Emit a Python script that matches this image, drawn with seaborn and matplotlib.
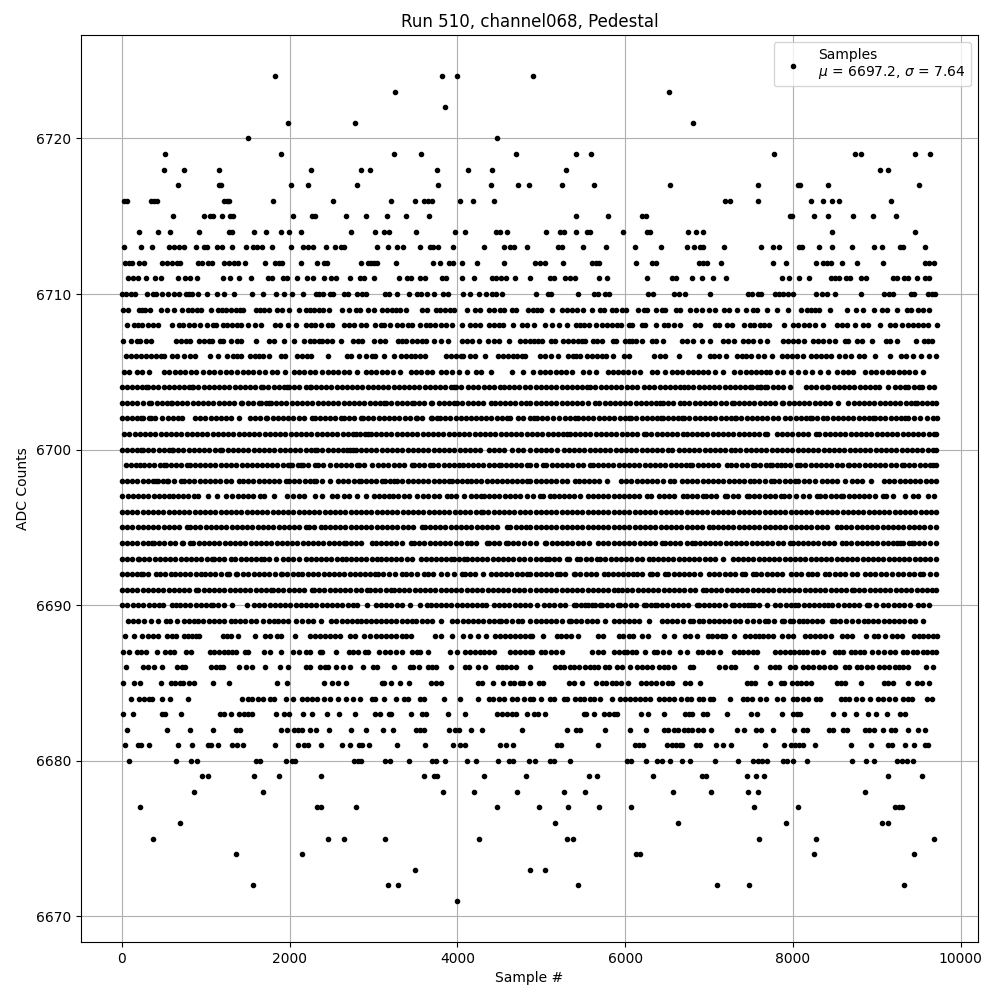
import pandas as pd
import matplotlib
matplotlib.use('Agg')
import matplotlib.pyplot as plt
import seaborn as sns

# sample numbers, one list per ADC count
adc_6724 = [1826, 3814, 3993, 4897]
adc_6723 = [3254, 6517]
adc_6722 = [3850]
adc_6721 = [1981, 2778, 6814]
adc_6720 = [1505, 4469]
adc_6719 = [516, 1898, 3242, 3564, 4695, 5409, 5588, 7778, 8743, 8814, 9457, 9636]
adc_6718 = [504, 742, 1159, 2255, 2849, 2957, 3755, 4124, 4410, 5290, 9040, 9136]
adc_6717 = [671, 1159, 1179, 2017, 2219, 2802, 3766, 4398, 4719, 4858, 5242, 5623, 6540, 7587, 8064, 8088, 8421, 9505]
adc_6716 = [28, 67, 353, 385, 417, 1219, 1250, 1282, 1802, 2516, 3207, 3493, 3600, 3647, 3695, 4028, 4183, 4433,
            7195, 7255, 7587, 8219, 8361, 8461, 8552, 9171]
adc_6715 = [611, 981, 1052, 1092, 1195, 1290, 1330, 2041, 2267, 2307, 2671, 2909, 3159, 3385, 3659, 5409, 5790,
            6203, 6243, 7965, 7984, 8254, 8421, 8719, 8957, 9231]
adc_6714 = [206, 433, 576, 921, 1282, 1314, 1576, 1719, 1898, 1993, 2136, 2730, 3016, 3123, 3183, 3504, 3969, 4088,
            4457, 4505, 4588, 5052, 5218, 5266, 5409, 5544, 5576, 5969, 6255, 6290, 6743, 6838, 6933, 8469, 9457]
adc_6713 = [28, 230, 361, 564, 623, 683, 742, 885, 981, 1012, 1135, 1195, 1314, 1481, 1564, 1616, 1671, 1790, 2017,
            2160, 2219, 2279, 2433, 2540, 2607, 2647, 3040, 3171, 3278, 3350, 3552, 3671, 3707, 3766, 3945, 4314,
            4552, 4632, 4671, 4826, 5194, 5246, 5492, 5766, 6112, 6421, 6731, 6826, 6886, 6933, 7183, 7623, 7766,
            7837, 8076, 8107, 8314, 8469, 8707, 8969, 9064, 9279, 9314, 9576]
adc_6712 = [40, 87, 127, 206, 266, 484, 544, 603, 663, 695, 909, 961, 1028, 1076, 1219, 1278, 1338, 1389, 1473, 1711,
            1822, 1874, 1910, 2136, 2330, 2409, 2448, 2849, 2933, 2972, 3004, 3036, 3266, 3707, 3790, 3897, 3945,
            4052, 4231, 4552, 4921, 4980, 5040, 5254, 5599, 5647, 5683, 6124, 6314, 6362, 6874, 6933, 6973, 7136,
            7766, 7921, 8278, 8361, 8409, 8449, 8588, 8766, 9076, 9576, 9624, 9676]
adc_6711 = [75, 139, 194, 290, 397, 468, 671, 754, 810, 897, 1207, 1290, 1397, 1540, 1743, 1790, 1921, 1973, 2088,
            2207, 2279, 2409, 2492, 2552, 2718, 2837, 2885, 3004, 3302, 3397, 3445, 3552, 3612, 3814, 3862, 4052,
            4195, 4410, 4457, 4517, 4576, 4683, 4862, 5099, 5155, 5278, 5337, 5397, 5683, 5778, 6255, 6552, 6600,
            6802, 6910, 7041, 7207, 7873, 7957, 8076, 8195, 8457, 8504, 8552, 8635, 8679, 8814, 8874, 9195, 9243,
            9326, 9374, 9481, 9576, 9624]
adc_6710 = [8, 48, 115, 155, 302, 373, 409, 480, 552, 623, 683, 766, 802, 841, 909, 1016, 1131, 1219, 1338, 1552,
            1683, 1842, 1933, 2028, 2160, 2314, 2350, 2397, 2480, 2520, 2647, 2695, 2802, 2861, 2909, 3135, 3183,
            3278, 3421, 3516, 3564, 3639, 3719, 3826, 3885, 4064, 4155, 4255, 4338, 4410, 4457, 4528, 4933, 5075,
            5115, 5437, 5623, 5671, 5754, 5802, 6266, 6326, 6576, 6636, 6707, 7013, 7468, 7516, 7587, 7623, 7790,
            7837, 7885, 7945, 8004, 8278, 8350, 8409, 8504, 8814, 9088, 9148, 9195, 9410, 9445, 9612, 9660, 9695]
adc_6709 = [20, 75, 206, 246, 278, 337, 468, 540, 623, 722, 790, 841, 893, 941, 1064, 1147, 1199, 1246, 1298, 1358,
            1409, 1449, 1596, 1648, 1695, 1754, 1854, 1913, 1993, 2112, 2195, 2243, 2291, 2350, 2397, 2468, 2627,
            2706, 2786, 2837, 2933, 3004, 3103, 3163, 3219, 3274, 3322, 3385, 3576, 3635, 3742, 3798, 3858, 3909,
            3965, 4112, 4215, 4274, 4374, 4441, 4513, 4560, 4648, 4695, 4838, 4897, 4948, 4996, 5123, 5242, 5306,
            5365, 5425, 5496, 5599, 5695, 5750, 5842, 5893, 5957, 6008, 6147, 6219, 6258, 6362, 6437, 6477, 6604,
            6652, 6775, 6846, 6917, 6993, 7076, 7183, 7243, 7334, 7440, 7528, 7575, 7694, 7814, 7945, 8091, 8163,
            8211, 8262, 8314, 8445, 8647, 8755, 8838, 8969, 9064, 9124, 9243, 9354, 9410, 9493, 9552, 9624]
adc_6708 = [67, 147, 194, 246, 314, 377, 437, 603, 683, 734, 802, 861, 933, 1012, 1092, 1123, 1211, 1258, 1318, 1370,
            1417, 1504, 1588, 1659, 1822, 1886, 1985, 2076, 2191, 2251, 2299, 2369, 2456, 2508, 2647, 2706, 2766,
            2853, 2905, 3024, 3084, 3131, 3195, 3282, 3342, 3409, 3461, 3560, 3620, 3679, 3739, 3806, 3870, 3941,
            4052, 4147, 4215, 4274, 4374, 4433, 4493, 4544, 4660, 4771, 4830, 4909, 5048, 5123, 5206, 5306, 5409,
            5465, 5512, 5564, 5655, 5722, 5782, 5842, 5901, 5949, 6040, 6080, 6199, 6238, 6370, 6465, 6505, 6576,
            6648, 6834, 6894, 7072, 7120, 7219, 7271, 7417, 7488, 7536, 7607, 7655, 7718, 7893, 8004, 8064, 8131,
            8195, 8262, 8361, 8520, 8580, 8639, 8743, 8838, 8897, 9040, 9155, 9215, 9294, 9366, 9425, 9493, 9552,
            9612, 9719]
adc_6707 = [20, 115, 179, 218, 286, 353, 643, 703, 762, 814, 921, 981, 1040, 1080, 1171, 1211, 1306, 1370, 1417, 1600,
            1754, 1814, 1933, 2052, 2171, 2239, 2291, 2350, 2389, 2448, 2500, 2611, 2758, 2814, 2865, 3004, 3076,
            3143, 3290, 3342, 3393, 3461, 3520, 3580, 3631, 3719, 3806, 3885, 4056, 4116, 4175, 4255, 4362, 4433,
            4493, 4612, 4751, 4810, 4862, 4909, 4956, 5012, 5115, 5167, 5258, 5318, 5377, 5433, 5484, 5524, 5611,
            5663, 5722, 5854, 5893, 5992, 6040, 6080, 6131, 6199, 6318, 6370, 6449, 6675, 6735, 6806, 6913, 7005,
            7171, 7231, 7291, 7409, 7468, 7528, 7607, 7687, 7885, 7945, 8004, 8064, 8131, 8234, 8302, 8361, 8433,
            8500, 8619, 8659, 8758, 8818, 8945, 9104, 9155, 9235, 9461, 9564, 9612, 9652]
adc_6706 = [48, 107, 167, 226, 286, 345, 405, 465, 504, 603, 663, 742, 814, 869, 1052, 1151, 1250, 1330, 1378, 1425,
            1528, 1584, 1636, 1687, 1755, 1902, 1949, 2092, 2148, 2203, 2259, 2453, 2688, 2727, 2827, 2910, 2981,
            3013, 3124, 3239, 3331, 3386, 3442, 3498, 3553, 3609, 3859, 3918, 3978, 4038, 4069, 4145, 4204, 4327,
            4490, 4546, 4601, 4657, 4712, 4768, 4804, 4988, 5044, 5115, 5202, 5314, 5377, 5417, 5465, 5544, 5603,
            5663, 5719, 5774, 5854, 5981, 6040, 6338, 6417, 6469, 6636, 6874, 7005, 7060, 7116, 7207, 7338, 7394,
            7442, 7497, 7577, 7656, 7751, 7874, 7934, 7993, 8053, 8116, 8220, 8275, 8331, 8394, 8454, 8549, 8621,
            8692, 8787, 8847, 8982, 9161, 9284, 9347, 9427, 9522, 9621, 9704]
adc_6705 = [28, 91, 179, 242, 325, 504, 568, 631, 695, 758, 822, 885, 973, 1036, 1100, 1171, 1239, 1298, 1378, 1441,
            1505, 1568, 1632, 1703, 1786, 1846, 1949, 2049, 2112, 2176, 2239, 2303, 2386, 2453, 2517, 2581, 2644,
            2708, 2807, 2906, 2970, 3033, 3097, 3164, 3228, 3315, 3442, 3506, 3569, 3633, 3696, 3799, 3859, 3938,
            4018, 4117, 4220, 4284, 4399, 4645, 4784, 4901, 4980, 5044, 5107, 5171, 5234, 5298, 5369, 5496, 5568,
            5647, 5794, 5854, 5909, 5973, 6036, 6100, 6171, 6314, 6378, 6473, 6552, 6616, 6679, 6743, 6806, 6870,
            6925, 6989, 7068, 7171, 7295, 7370, 7434, 7497, 7561, 7624, 7680, 7727, 7807, 7886, 7974, 8065, 8148,
            8228, 8319, 8418, 8529, 8593, 8656, 8720, 8863, 8926, 8990, 9061, 9133, 9196, 9260, 9323, 9387, 9458, 9554]
adc_6704 = [0, 62, 121, 183, 240, 286, 314, 375, 436, 498, 560, 622, 683, 745, 806, 834, 850, 912, 975, 1037, 1098,
            1160, 1222, 1283, 1345, 1406, 1468, 1530, 1592, 1655, 1687, 1748, 1810, 1872, 1933, 1973, 1993, 2055, 2116,
            2195, 2243, 2251, 2313, 2375, 2437, 2498, 2560, 2622, 2684, 2745, 2807, 2869, 2931, 2992, 3054, 3116,
            3178, 3239, 3301, 3363, 3425, 3486, 3548, 3610, 3672, 3733, 3795, 3857, 3919, 3958, 3986, 4048, 4125,
            4188, 4250, 4312, 4374, 4436, 4506, 4553, 4615, 4677, 4739, 4801, 4871, 4932, 4994, 5056, 5118, 5180,
            5242, 5304, 5366, 5428, 5490, 5544, 5584, 5646, 5708, 5770, 5832, 5894, 5956, 6018, 6080, 6142, 6219,
            6286, 6348, 6410, 6472, 6534, 6596, 6658, 6703, 6743, 6814, 6874, 6936, 6998, 7060, 7122, 7184, 7246,
            7308, 7370, 7432, 7489, 7509, 7570, 7608, 7620, 7668, 7696, 7758, 7820, 7882, 7966, 8156, 8218, 8280,
            8342, 8402, 8422, 8484, 8546, 8608, 8670, 8732, 8794, 8856, 8918, 8980, 9026, 9137, 9216, 9278, 9335,
            9376, 9438, 9500, 9534, 9625, 9680]
adc_6703 = [0, 62, 124, 186, 248, 325, 353, 415, 477, 539, 583, 595, 657, 719, 781, 843, 905, 967, 1029, 1091, 1153,
            1215, 1277, 1339, 1417, 1437, 1499, 1561, 1636, 1655, 1717, 1755, 1775, 1837, 1899, 1961, 2023, 2085,
            2147, 2209, 2271, 2333, 2395, 2457, 2519, 2581, 2643, 2705, 2767, 2829, 2891, 2953, 3015, 3077, 3124,
            3152, 3214, 3276, 3338, 3400, 3462, 3482, 3544, 3606, 3680, 3700, 3780, 3842, 3904, 3958, 3998, 4060,
            4122, 4184, 4246, 4308, 4395, 4443, 4505, 4567, 4629, 4691, 4753, 4815, 4871, 4933, 4995, 5057, 5119,
            5181, 5243, 5305, 5367, 5429, 5491, 5553, 5643, 5683, 5762, 5814, 5876, 5938, 6000, 6062, 6124, 6186,
            6248, 6310, 6372, 6409, 6449, 6511, 6573, 6655, 6703, 6765, 6827, 6889, 6951, 7013, 7075, 7137, 7199,
            7271, 7291, 7353, 7415, 7477, 7539, 7601, 7663, 7725, 7787, 7866, 7886, 7948, 8010, 8072, 8134, 8196,
            8258, 8320, 8382, 8444, 8541, 8660, 8722, 8784, 8846, 8908, 8970, 9032, 9094, 9156, 9218, 9280, 9342,
            9404, 9454, 9474, 9536, 9598, 9660, 9710]
adc_6702 = [0, 62, 124, 186, 226, 254, 326, 353, 397, 484, 546, 608, 670, 715, 873, 935, 997, 1059, 1121, 1183, 1245,
            1307, 1401, 1528, 1590, 1652, 1715, 1735, 1797, 1859, 1921, 1983, 2045, 2107, 2169, 2263, 2299, 2361,
            2423, 2485, 2547, 2616, 2648, 2710, 2772, 2847, 2874, 2936, 2998, 3060, 3122, 3184, 3246, 3308, 3370,
            3432, 3502, 3522, 3584, 3680, 3700, 3760, 3792, 3854, 3916, 3978, 4038, 4097, 4157, 4219, 4281, 4343,
            4405, 4467, 4529, 4591, 4633, 4720, 4782, 4871, 4909, 4948, 5010, 5072, 5134, 5206, 5278, 5340, 5397,
            5433, 5495, 5557, 5615, 5683, 5745, 5807, 5869, 5941, 6000, 6048, 6072, 6134, 6196, 6258, 6320, 6382,
            6429, 6445, 6507, 6569, 6631, 6675, 6703, 6765, 6827, 6889, 6951, 7013, 7075, 7137, 7199, 7261, 7310,
            7322, 7384, 7446, 7508, 7570, 7632, 7694, 7756, 7827, 7906, 7968, 8030, 8092, 8154, 8204, 8224, 8286,
            8355, 8410, 8472, 8534, 8596, 8658, 8720, 8782, 8844, 8906, 8958, 8978, 9040, 9102, 9164, 9226, 9288,
            9335, 9376, 9438, 9514, 9601, 9663, 9714]
adc_6701 = [28, 90, 152, 214, 276, 338, 400, 462, 524, 586, 648, 710, 772, 834, 896, 958, 1020, 1082, 1144, 1206,
            1268, 1330, 1392, 1454, 1516, 1578, 1640, 1702, 1764, 1826, 1888, 1950, 2012, 2074, 2136, 2198, 2260,
            2322, 2384, 2446, 2508, 2570, 2632, 2694, 2756, 2795, 2835, 2897, 2934, 2966, 3028, 3090, 3152, 3214,
            3276, 3338, 3400, 3462, 3524, 3586, 3648, 3710, 3772, 3834, 3896, 3958, 4020, 4082, 4144, 4206, 4268,
            4330, 4392, 4454, 4516, 4578, 4640, 4702, 4764, 4826, 4889, 4951, 5013, 5075, 5137, 5199, 5261, 5306,
            5337, 5399, 5461, 5523, 5585, 5647, 5709, 5771, 5833, 5895, 5957, 6019, 6081, 6143, 6219, 6250, 6312,
            6374, 6436, 6498, 6560, 6622, 6684, 6735, 6794, 6856, 6918, 6980, 7042, 7104, 7166, 7228, 7290, 7352,
            7414, 7476, 7538, 7600, 7662, 7696, 7807, 7869, 7931, 7993, 8055, 8117, 8179, 8275, 8315, 8377, 8439,
            8501, 8563, 8625, 8687, 8749, 8811, 8873, 8935, 8997, 9059, 9121, 9183, 9245, 9307, 9369, 9431, 9493,
            9555, 9617, 9679, 9700]
adc_6700 = [0, 62, 124, 186, 226, 254, 316, 378, 440, 502, 564, 595, 611, 673, 735, 797, 859, 921, 983, 1045, 1107,
            1171, 1199, 1261, 1323, 1385, 1447, 1509, 1571, 1633, 1695, 1757, 1819, 1881, 1943, 2005, 2067, 2129,
            2191, 2253, 2299, 2330, 2392, 2454, 2516, 2578, 2640, 2688, 2720, 2755, 2787, 2849, 2911, 2973, 3035,
            3097, 3159, 3221, 3283, 3345, 3407, 3469, 3531, 3593, 3655, 3717, 3779, 3841, 3903, 3965, 4027, 4089,
            4151, 4213, 4275, 4375, 4435, 4497, 4559, 4653, 4720, 4782, 4871, 4933, 4995, 5057, 5119, 5187, 5266,
            5328, 5390, 5452, 5514, 5576, 5638, 5700, 5762, 5824, 5886, 5948, 6010, 6072, 6134, 6196, 6258, 6320,
            6382, 6444, 6506, 6556, 6636, 6698, 6760, 6822, 6884, 6946, 7008, 7070, 7132, 7194, 7263, 7310, 7372,
            7434, 7496, 7558, 7620, 7682, 7744, 7806, 7868, 7930, 7992, 8054, 8116, 8178, 8240, 8302, 8364, 8426,
            8488, 8550, 8612, 8674, 8736, 8798, 8860, 8922, 8984, 9046, 9108, 9170, 9232, 9294, 9356, 9418, 9480,
            9542, 9604, 9666, 9710]
adc_6699 = [48, 110, 172, 214, 266, 328, 390, 452, 504, 524, 586, 648, 710, 782, 814, 869, 931, 993, 1055, 1117,
            1179, 1241, 1303, 1365, 1427, 1489, 1556, 1608, 1670, 1732, 1794, 1856, 1918, 1980, 2005, 2033, 2095,
            2132, 2160, 2222, 2299, 2339, 2401, 2477, 2549, 2611, 2673, 2735, 2799, 2827, 2889, 2978, 3053, 3115,
            3177, 3239, 3301, 3363, 3454, 3482, 3544, 3606, 3668, 3712, 3774, 3836, 3898, 3960, 4022, 4069, 4125,
            4187, 4249, 4311, 4373, 4435, 4494, 4514, 4576, 4638, 4700, 4762, 4824, 4871, 4933, 5020, 5060, 5122,
            5184, 5246, 5308, 5370, 5432, 5494, 5584, 5611, 5673, 5735, 5797, 5859, 5921, 5983, 6045, 6107, 6169,
            6231, 6293, 6355, 6417, 6479, 6541, 6603, 6665, 6727, 6775, 6802, 6864, 6926, 6988, 7050, 7112, 7211,
            7263, 7325, 7387, 7449, 7521, 7549, 7611, 7673, 7727, 7747, 7809, 7858, 7906, 7968, 8053, 8085, 8147,
            8209, 8271, 8333, 8395, 8457, 8519, 8581, 8652, 8668, 8730, 8792, 8854, 8916, 8978, 9040, 9102, 9164,
            9226, 9296, 9323, 9385, 9447, 9509, 9571, 9633, 9673, 9700]
adc_6698 = [0, 62, 124, 186, 248, 310, 372, 405, 433, 495, 544, 556, 618, 703, 742, 804, 866, 928, 990, 1052, 1114,
            1176, 1238, 1300, 1397, 1445, 1507, 1569, 1631, 1693, 1755, 1817, 1879, 1953, 1993, 2055, 2117, 2179,
            2241, 2291, 2319, 2381, 2477, 2577, 2639, 2701, 2763, 2827, 2847, 2909, 2971, 3033, 3104, 3136, 3198,
            3244, 3283, 3345, 3407, 3469, 3531, 3593, 3655, 3717, 3779, 3841, 3898, 3930, 3992, 4054, 4116, 4165,
            4224, 4286, 4348, 4410, 4472, 4534, 4596, 4653, 4705, 4767, 4829, 4871, 4933, 4995, 5057, 5119, 5181,
            5243, 5305, 5405, 5445, 5507, 5564, 5623, 5685, 5782, 5949, 6011, 6073, 6135, 6197, 6259, 6321, 6383,
            6445, 6536, 6576, 6675, 6737, 6799, 6861, 6923, 6985, 7047, 7109, 7171, 7233, 7295, 7357, 7419, 7489,
            7537, 7599, 7661, 7735, 7775, 7837, 7899, 7961, 8025, 8065, 8127, 8189, 8263, 8343, 8405, 8467, 8529,
            8621, 8700, 8762, 8819, 8926, 9085, 9147, 9209, 9271, 9333, 9395, 9457, 9519, 9581, 9643, 9700]
adc_6697 = [8, 70, 132, 194, 256, 318, 380, 442, 504, 566, 615, 671, 733, 795, 857, 913, 1028, 1139, 1239, 1318,
            1380, 1442, 1504, 1566, 1644, 1695, 1814, 1973, 2035, 2112, 2171, 2299, 2390, 2509, 2571, 2648, 2708,
            2807, 2906, 3005, 3067, 3129, 3184, 3236, 3298, 3360, 3422, 3521, 3593, 3655, 3717, 3779, 3879, 3918,
            3980, 4077, 4157, 4219, 4276, 4315, 4377, 4439, 4501, 4563, 4625, 4687, 4749, 4831, 4901, 4988, 5020,
            5107, 5147, 5209, 5271, 5333, 5395, 5465, 5552, 5614, 5676, 5738, 5800, 5862, 5924, 5986, 6048, 6100,
            6159, 6258, 6310, 6397, 6459, 6521, 6583, 6687, 6735, 6797, 6859, 6925, 6961, 7023, 7085, 7191, 7219,
            7281, 7343, 7450, 7481, 7537, 7599, 7661, 7723, 7785, 7854, 7894, 7956, 8037, 8124, 8186, 8291, 8323,
            8385, 8447, 8509, 8569, 8601, 8663, 8725, 8787, 8849, 8911, 8973, 9069, 9109, 9196, 9336, 9435, 9495,
            9614, 9676]
adc_6696 = [0, 62, 124, 186, 248, 310, 372, 434, 496, 558, 620, 682, 744, 806, 868, 930, 992, 1054, 1116, 1178, 1240,
            1302, 1364, 1426, 1488, 1550, 1612, 1674, 1736, 1798, 1860, 1922, 1984, 2046, 2108, 2170, 2232, 2294,
            2356, 2418, 2480, 2542, 2604, 2666, 2728, 2790, 2852, 2914, 2976, 3038, 3100, 3162, 3224, 3286, 3348,
            3410, 3472, 3534, 3596, 3658, 3720, 3782, 3844, 3906, 3968, 4030, 4092, 4154, 4216, 4276, 4307, 4369,
            4431, 4493, 4555, 4617, 4679, 4741, 4803, 4871, 4933, 4995, 5057, 5119, 5181, 5243, 5305, 5367, 5429,
            5491, 5553, 5615, 5677, 5739, 5801, 5863, 5925, 5987, 6049, 6111, 6173, 6235, 6297, 6359, 6421, 6483,
            6545, 6607, 6669, 6731, 6793, 6855, 6917, 6979, 7041, 7103, 7165, 7227, 7289, 7351, 7413, 7475, 7537,
            7599, 7661, 7723, 7785, 7847, 7909, 7971, 8033, 8095, 8157, 8219, 8281, 8343, 8405, 8467, 8529, 8591,
            8653, 8715, 8777, 8839, 8901, 8963, 9025, 9087, 9149, 9211, 9273, 9335, 9397, 9459, 9521, 9583, 9645, 9710]
adc_6695 = [0, 60, 127, 189, 251, 313, 375, 437, 499, 561, 623, 685, 774, 814, 876, 938, 1000, 1062, 1124, 1186, 1248,
            1310, 1372, 1434, 1496, 1558, 1620, 1682, 1744, 1806, 1868, 1930, 1992, 2054, 2116, 2191, 2231, 2293,
            2378, 2418, 2480, 2542, 2604, 2666, 2728, 2790, 2852, 2914, 2976, 3038, 3100, 3162, 3224, 3286, 3348,
            3410, 3472, 3573, 3609, 3671, 3733, 3795, 3857, 3919, 3981, 4043, 4105, 4167, 4229, 4291, 4353, 4415,
            4477, 4594, 4633, 4695, 4757, 4819, 4871, 4933, 4995, 5057, 5119, 5181, 5243, 5305, 5367, 5429, 5491,
            5553, 5615, 5677, 5739, 5801, 5863, 5925, 5987, 6049, 6111, 6173, 6235, 6297, 6359, 6421, 6483, 6545,
            6607, 6669, 6731, 6793, 6855, 6917, 6993, 7041, 7103, 7165, 7227, 7289, 7351, 7413, 7475, 7537, 7599,
            7661, 7723, 7785, 7847, 7909, 7971, 8033, 8095, 8157, 8219, 8281, 8343, 8405, 8521, 8573, 8635, 8697,
            8759, 8821, 8883, 8945, 9007, 9069, 9131, 9193, 9255, 9317, 9379, 9441, 9503, 9565, 9627, 9700]
adc_6694 = [0, 62, 124, 186, 248, 310, 365, 385, 447, 509, 571, 633, 722, 734, 814, 854, 916, 978, 1040, 1102, 1164,
            1226, 1288, 1350, 1412, 1474, 1536, 1598, 1660, 1722, 1784, 1846, 1908, 1970, 2032, 2094, 2156, 2218,
            2280, 2342, 2404, 2466, 2528, 2590, 2648, 2668, 2730, 2792, 2854, 2985, 3025, 3087, 3149, 3211, 3273,
            3335, 3442, 3482, 3544, 3606, 3668, 3730, 3792, 3854, 3916, 3978, 4040, 4117, 4157, 4219, 4355, 4375,
            4437, 4499, 4574, 4602, 4664, 4726, 4788, 4871, 4933, 5048, 5060, 5122, 5184, 5246, 5308, 5370, 5432,
            5494, 5564, 5675, 5737, 5799, 5861, 5923, 5985, 6047, 6109, 6171, 6233, 6295, 6357, 6437, 6469, 6531,
            6593, 6655, 6735, 6794, 6834, 6886, 6948, 7010, 7072, 7134, 7196, 7258, 7320, 7382, 7444, 7506, 7568,
            7630, 7692, 7754, 7816, 7878, 7965, 8005, 8057, 8116, 8178, 8240, 8302, 8364, 8426, 8488, 8581, 8633,
            8695, 8757, 8819, 8881, 8943, 9005, 9077, 9137, 9196, 9236, 9276, 9316, 9378, 9415, 9443, 9505, 9567,
            9629, 9700]
adc_6693 = [0, 62, 124, 195, 206, 268, 330, 392, 454, 516, 578, 640, 702, 764, 826, 888, 950, 1012, 1080, 1100, 1162,
            1224, 1298, 1350, 1417, 1479, 1541, 1603, 1655, 1695, 1757, 1834, 1921, 1983, 2045, 2107, 2199, 2251,
            2313, 2375, 2437, 2499, 2561, 2628, 2668, 2730, 2792, 2854, 2916, 2978, 3037, 3085, 3147, 3209, 3271,
            3333, 3395, 3457, 3561, 3621, 3683, 3745, 3807, 3869, 3926, 3958, 4020, 4077, 4109, 4171, 4233, 4295,
            4357, 4419, 4481, 4543, 4605, 4667, 4729, 4791, 4871, 4933, 4995, 5060, 5087, 5149, 5211, 5306, 5333,
            5425, 5465, 5527, 5589, 5663, 5703, 5765, 5827, 5889, 5951, 6013, 6075, 6137, 6199, 6286, 6326, 6388,
            6450, 6512, 6574, 6636, 6698, 6760, 6822, 6884, 6946, 7008, 7070, 7160, 7279, 7341, 7403, 7465, 7527,
            7589, 7651, 7713, 7775, 7837, 7899, 7961, 8023, 8085, 8147, 8209, 8271, 8333, 8395, 8457, 8519, 8581,
            8643, 8705, 8767, 8829, 8891, 8953, 9015, 9077, 9139, 9201, 9263, 9325, 9387, 9449, 9511, 9573, 9635, 9700]
adc_6692 = [0, 62, 124, 186, 226, 254, 316, 405, 453, 515, 584, 631, 693, 755, 817, 879, 941, 992, 1054, 1116, 1178,
            1258, 1278, 1358, 1378, 1440, 1502, 1576, 1636, 1698, 1760, 1822, 1894, 1913, 1975, 2037, 2099, 2152,
            2219, 2281, 2343, 2405, 2467, 2529, 2591, 2653, 2715, 2777, 2839, 2901, 2963, 3013, 3053, 3115, 3184,
            3251, 3343, 3390, 3452, 3514, 3601, 3648, 3710, 3799, 3879, 3958, 4058, 4085, 4147, 4209, 4307, 4395,
            4457, 4519, 4581, 4643, 4705, 4767, 4829, 4871, 4933, 4995, 5057, 5119, 5187, 5218, 5280, 5385, 5405,
            5467, 5529, 5591, 5653, 5742, 5790, 5852, 5914, 5976, 6038, 6092, 6139, 6201, 6290, 6318, 6380, 6477,
            6516, 6578, 6640, 6702, 6764, 6826, 6894, 6993, 7060, 7122, 7184, 7246, 7308, 7390, 7430, 7529, 7561,
            7623, 7685, 7747, 7809, 7871, 7973, 8033, 8093, 8184, 8224, 8286, 8382, 8434, 8496, 8558, 8620, 8700,
            8760, 8859, 8921, 8983, 9045, 9107, 9176, 9248, 9315, 9377, 9439, 9514, 9554, 9633, 9705]
adc_6691 = [0, 62, 124, 186, 248, 310, 372, 434, 496, 558, 620, 682, 744, 806, 881, 913, 975, 1037, 1099, 1161, 1223,
            1285, 1347, 1409, 1471, 1533, 1595, 1657, 1719, 1774, 1802, 1864, 1926, 1988, 2050, 2112, 2174, 2271,
            2291, 2353, 2415, 2477, 2539, 2601, 2663, 2725, 2787, 2849, 2926, 2958, 3020, 3082, 3144, 3204, 3243,
            3305, 3367, 3429, 3491, 3553, 3615, 3677, 3739, 3801, 3863, 3925, 3987, 4049, 4111, 4173, 4235, 4297,
            4359, 4421, 4483, 4545, 4607, 4669, 4731, 4793, 4871, 4933, 4995, 5057, 5119, 5181, 5243, 5305, 5367,
            5429, 5491, 5553, 5615, 5677, 5739, 5801, 5861, 5909, 5961, 6023, 6085, 6147, 6209, 6271, 6333, 6395,
            6457, 6519, 6581, 6643, 6705, 6767, 6829, 6933, 6961, 7023, 7085, 7147, 7209, 7271, 7333, 7395, 7457,
            7519, 7581, 7643, 7705, 7767, 7829, 7891, 7953, 8015, 8077, 8139, 8201, 8263, 8325, 8387, 8449, 8511,
            8573, 8635, 8700, 8728, 8790, 8852, 8914, 8976, 9038, 9100, 9162, 9224, 9286, 9348, 9410, 9472, 9534,
            9596, 9658, 9710]
adc_6690 = [0, 62, 139, 195, 257, 319, 381, 443, 496, 603, 643, 695, 757, 819, 881, 943, 1005, 1060, 1088, 1150, 1219,
            1318, 1489, 1576, 1638, 1700, 1762, 1824, 1886, 1948, 2010, 2072, 2134, 2196, 2258, 2320, 2382, 2444,
            2506, 2568, 2630, 2692, 2754, 2799, 2926, 3025, 3085, 3147, 3209, 3275, 3343, 3430, 3549, 3640, 3680,
            3742, 3804, 3866, 3928, 3990, 4052, 4114, 4176, 4238, 4296, 4343, 4435, 4497, 4559, 4621, 4683, 4745,
            4807, 4871, 4948, 5028, 5090, 5155, 5226, 5288, 5385, 5417, 5479, 5524, 5552, 5603, 5643, 5703, 5722,
            5784, 5846, 5909, 5941, 6003, 6065, 6127, 6219, 6247, 6309, 6358, 6378, 6440, 6502, 6564, 6626, 6688,
            6750, 6854, 6874, 6936, 6998, 7060, 7122, 7184, 7271, 7291, 7353, 7415, 7469, 7497, 7537, 7599, 7688,
            7787, 7849, 7911, 7973, 8025, 8065, 8127, 8189, 8251, 8313, 8375, 8422, 8462, 8541, 8603, 8665, 8727,
            8789, 8879, 8910, 8990, 9069, 9137, 9199, 9261, 9323, 9395, 9485, 9547, 9625]
adc_6689 = [75, 137, 199, 266, 353, 433, 524, 576, 655, 742, 804, 866, 909, 973, 1035, 1097, 1159, 1221, 1298, 1350,
            1412, 1474, 1536, 1596, 1687, 1749, 1811, 1862, 1921, 1983, 2072, 2152, 2214, 2276, 2378, 2497, 2559,
            2621, 2683, 2745, 2807, 2847, 2909, 2974, 3025, 3087, 3149, 3211, 3273, 3335, 3397, 3462, 3502, 3581,
            3640, 3702, 3807, 3938, 4000, 4062, 4124, 4186, 4248, 4310, 4372, 4434, 4494, 4522, 4584, 4646, 4722,
            4772, 4871, 4933, 4995, 5057, 5119, 5181, 5243, 5326, 5353, 5415, 5477, 5539, 5601, 5663, 5762, 5861,
            5921, 5983, 6045, 6107, 6169, 6278, 6437, 6499, 6561, 6623, 6685, 6775, 6814, 6876, 6933, 6993, 7055,
            7117, 7179, 7241, 7303, 7365, 7450, 7529, 7591, 7668, 7708, 7770, 7866, 7894, 7965, 8005, 8067, 8124,
            8164, 8226, 8288, 8350, 8462, 8502, 8564, 8626, 8700, 8779, 8841, 8899, 8958, 9018, 9080, 9142, 9204,
            9266, 9328, 9390, 9452, 9554]
adc_6688 = [40, 147, 242, 314, 373, 433, 540, 599, 651, 742, 790, 841, 885, 921, 1207, 1258, 1306, 1385, 1588, 1707,
            1767, 1850, 1902, 2064, 2243, 2303, 2362, 2417, 2480, 2536, 2599, 2718, 2774, 2885, 2961, 3032, 3084,
            3155, 3211, 3274, 3338, 3385, 3445, 3731, 3802, 3933, 4064, 4147, 4243, 4338, 4445, 4505, 4572, 4632,
            4691, 4751, 4810, 4862, 4889, 5016, 5187, 5234, 5290, 5353, 5437, 5671, 5730, 5921, 5969, 6040, 6092,
            6195, 6266, 6457, 6576, 6715, 6775, 6854, 6985, 7036, 7092, 7152, 7191, 7291, 7429, 7488, 7548, 7599,
            7647, 7706, 7766, 7865, 7945, 7996, 8143, 8203, 8258, 8322, 8385, 8457, 8580, 8639, 8699, 8870, 8965,
            9016, 9096, 9175, 9235, 9298, 9441, 9497, 9552, 9612, 9664, 9711]
adc_6687 = [16, 87, 183, 234, 286, 421, 516, 576, 623, 766, 826, 1052, 1100, 1159, 1219, 1266, 1318, 1366, 1469, 1504,
            1695, 1767, 1898, 2041, 2116, 2191, 2239, 2362, 2389, 2552, 2706, 2758, 2814, 2893, 2933, 3064, 3143,
            3195, 3266, 3338, 3457, 3520, 3560, 3647, 3917, 3997, 4088, 4155, 4215, 4274, 4322, 4374, 4433, 4632,
            4691, 4751, 4810, 4862, 4889, 4996, 5048, 5115, 5179, 5242, 5599, 5671, 5730, 5869, 5925, 5981, 6020,
            6080, 6131, 6238, 6346, 6385, 6445, 6528, 6648, 6731, 6862, 6910, 6981, 7052, 7132, 7299, 7354, 7409,
            7464, 7520, 7567, 7786, 7845, 7905, 7965, 8012, 8068, 8123, 8171, 8234, 8290, 8353, 8500, 8548, 8600,
            8687, 8743, 8798, 8846, 8945, 9016, 9088, 9155, 9215, 9306, 9362, 9425, 9481, 9544, 9600, 9652, 9699]
adc_6686 = [52, 254, 314, 385, 480, 659, 719, 758, 1068, 1119, 1171, 1203, 1397, 1477, 1552, 1707, 1886, 1981, 2195,
            2243, 2362, 2417, 2456, 2548, 2635, 2718, 2877, 2992, 3044, 3242, 3433, 3473, 3540, 3647, 3703, 3742,
            3921, 4088, 4136, 4243, 4326, 4481, 4532, 4584, 4640, 4699, 4862, 5167, 5218, 5266, 5337, 5393, 5449,
            5520, 5576, 5623, 5675, 5758, 5810, 5901, 5961, 6056, 6139, 6195, 6258, 6314, 6397, 6457, 6516, 6576,
            6767, 6814, 7124, 7195, 7267, 7307, 7563, 7730, 7786, 7829, 7965, 8024, 8123, 8183, 8234, 8314, 8369,
            8441, 8500, 8619, 8671, 8766, 8814, 8885, 8945, 9028, 9088, 9148, 9219, 9267, 9314, 9374, 9584, 9671]
adc_6685 = [16, 147, 218, 468, 587, 635, 695, 726, 802, 861, 1088, 1278, 1850, 1969, 2409, 2500, 2575, 2671, 3103,
            3131, 3207, 3314, 3421, 3687, 3746, 3802, 4243, 4290, 4421, 4544, 4624, 4671, 4743, 4783, 4862, 4968,
            5020, 5326, 5385, 5480, 5647, 5722, 5774, 5842, 5893, 5949, 6028, 6183, 6250, 6306, 6370, 6437, 6505,
            6560, 6715, 6767, 6886, 7456, 7504, 7548, 7730, 7853, 7893, 7984, 8044, 8099, 8151, 8219, 8528, 8568,
            8619, 8814, 9084, 9136, 9195, 9374, 9473, 9533, 9624]
adc_6684 = [111, 206, 266, 325, 365, 484, 576, 790, 1433, 1504, 1556, 1624, 1679, 1767, 1814, 1953, 2041, 2148, 2211,
            2263, 2330, 2409, 2476, 2575, 2671, 2750, 2837, 2984, 3024, 3123, 3266, 3369, 3417, 3552, 3600, 3838,
            4036, 4243, 4374, 4425, 4493, 4560, 4652, 4711, 4791, 4862, 4901, 4992, 5099, 5147, 5266, 5306, 5405,
            5465, 5512, 5576, 5623, 5703, 5838, 5933, 5992, 6052, 6120, 6171, 6238, 6290, 6397, 6457, 6528, 6584,
            6663, 6735, 6790, 6874, 6933, 7005, 7052, 7255, 7401, 7456, 7512, 7607, 7679, 7814, 7885, 7996, 8052,
            8115, 8183, 8274, 8322, 8568, 8624, 8671, 8750, 8826, 8921, 9016, 9076, 9148, 9219, 9314, 9374, 9414,
            9592, 9652]
adc_6683 = [16, 135, 480, 512, 706, 1171, 1219, 1302, 1397, 1457, 1504, 1552, 1838, 1933, 1993, 2160, 2267, 2444,
            2587, 2778, 3024, 3076, 3183, 3211, 3445, 3576, 3624, 3885, 4088, 4469, 4532, 4592, 4652, 4695, 4826,
            4917, 4956, 5040, 5504, 5536, 5623, 5742, 5802, 5861, 5901, 6183, 6266, 6457, 6707, 6755, 6802, 6933,
            6973, 7219, 7504, 7575, 7873, 8004, 8052, 8088, 8481, 8612, 8755, 8897, 8993, 9124, 9279, 9338]
adc_6682 = [63, 540, 814, 1088, 1362, 1409, 1898, 1969, 2052, 2100, 2148, 2243, 2314, 2468, 2730, 2909, 3111, 3230,
            3504, 3560, 3600, 3897, 3977, 4017, 4159, 4290, 4767, 5302, 5409, 5457, 5754, 6052, 6247, 6457, 6505,
            6576, 6624, 6695, 6743, 6802, 6862, 6933, 7017, 7338, 7421, 7563, 7623, 7766, 8016, 8123, 8163, 8433,
            8481, 8600, 8647, 8862, 8909, 8969, 9076, 9171, 9219, 9374, 9493, 9576]
adc_6681 = [40, 194, 234, 325, 671, 841, 1028, 1068, 1147, 1314, 1374, 1445, 1826, 2100, 2171, 2219, 2377, 2623, 2718,
            2826, 2865, 2945, 3278, 3612, 3945, 4028, 4088, 4505, 4576, 4660, 5187, 5234, 5671, 6112, 6159, 6207,
            6493, 6552, 6600, 6648, 6679, 6838, 6886, 7088, 7171, 7267, 7671, 7897, 7980, 8028, 8076, 8123, 8266,
            8695, 8933, 9136, 9183, 9338, 9445, 9576, 9612]
adc_6680 = [87, 647, 826, 897, 1600, 1648, 1957, 2028, 2064, 2766, 2814, 2853, 3135, 3195, 3421, 3695, 3742, 3850,
            4112, 4219, 4481, 4612, 4660, 4850, 4921, 5107, 5147, 5337, 6016, 6064, 6243, 6374, 6433, 6540, 6683,
            6767, 7076, 7350, 7528, 7587, 7627, 7694, 7885, 7925, 8004, 8171, 8707, 8874, 8969, 9243, 9302, 9362, 9433]
adc_6679 = [957, 1028, 1576, 1874, 2369, 3600, 3719, 3758, 4314, 4814, 5564, 5659, 6326, 6921, 6961, 7456, 7563, 7659,
            9136, 9541]
adc_6678 = [861, 1683, 3826, 4195, 4707, 5266, 5516, 6564, 7028, 7468, 7587, 8862]
adc_6677 = [218, 2322, 2369, 2790, 4469, 4968, 5314, 5683, 6064, 7540, 8064, 9219, 9267, 9302]
adc_6676 = [695, 5159, 6624, 7921, 9064, 9136]
adc_6675 = [373, 2456, 2647, 3135, 4255, 5302, 5373, 7599, 8278, 9683]
adc_6674 = [1362, 2148, 6124, 6171, 8254, 9445]
adc_6673 = [3492, 4869, 5040]
adc_6672 = [1564, 3171, 3290, 5433, 7100, 7480, 9326]
adc_6671 = [3993]

adc_levels = list(range(6671, 6725))
adc_rows = [adc_6671, adc_6672, adc_6673, adc_6674, adc_6675, adc_6676, adc_6677, adc_6678, adc_6679, adc_6680,
            adc_6681, adc_6682, adc_6683, adc_6684, adc_6685, adc_6686, adc_6687, adc_6688, adc_6689, adc_6690,
            adc_6691, adc_6692, adc_6693, adc_6694, adc_6695, adc_6696, adc_6697, adc_6698, adc_6699, adc_6700,
            adc_6701, adc_6702, adc_6703, adc_6704, adc_6705, adc_6706, adc_6707, adc_6708, adc_6709, adc_6710,
            adc_6711, adc_6712, adc_6713, adc_6714, adc_6715, adc_6716, adc_6717, adc_6718, adc_6719, adc_6720,
            adc_6721, adc_6722, adc_6723, adc_6724]

df = pd.concat([pd.DataFrame({'sample': r, 'adc': lvl}) for lvl, r in zip(adc_levels, adc_rows)])

plt.rcParams['font.family'] = 'DejaVu Sans'
fig, ax = plt.subplots(figsize=(10, 10))
sns.scatterplot(data=df, x='sample', y='adc', color='black', marker='o', s=9, edgecolor='black', linewidth=1,
                zorder=2, ax=ax, label='Samples\n$\\mu$ = 6697.2, $\\sigma$ = 7.64')
ax.grid(True)
ax.set_title('Run 510, channel068, Pedestal')
ax.set_xlabel('Sample #')
ax.set_ylabel('ADC Counts')
ax.legend(loc='upper right')
fig.subplots_adjust(left=0.081, right=0.978, top=0.965, bottom=0.058)
fig.savefig('out.png', dpi=100)
